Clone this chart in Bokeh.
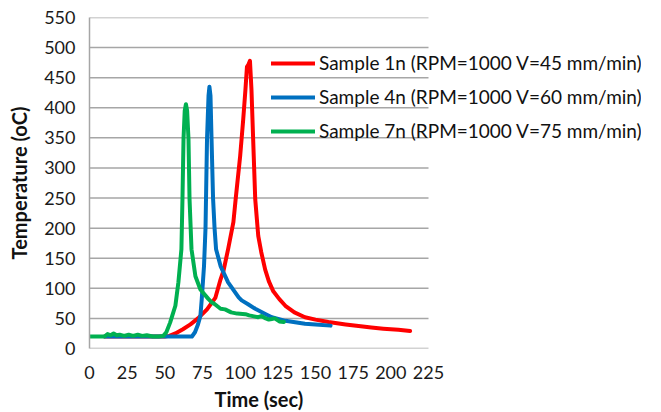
from bokeh.plotting import figure
from bokeh.models import Range1d, Legend, LegendItem, FixedTicker, Title
from bokeh.embed import file_html
from bokeh.resources import INLINE

# ---- data ----
s1_label = "Sample 1n (RPM=1000 V=45 mm/min)"
s1_time = [10, 20, 30, 40, 50, 53, 57, 62, 67, 72, 78, 83.5, 87, 89, 92, 95.5, 97, 100, 102,
           103.5, 104.5, 105.5, 106.5, 107.5, 109, 110, 112, 114, 116.6, 119, 122, 126, 130,
           136, 143, 150, 158.6, 170, 180, 187, 195, 205, 212.8]
s1_temp = [20, 20, 20, 20, 20, 21, 25, 32, 40, 50, 65, 84, 115, 130, 165, 210, 248, 320, 380,
           430, 468, 472, 478, 430, 320, 248, 187, 160, 131, 112, 95, 82, 71,
           60, 52, 48, 44, 40, 37, 35, 33, 31, 29]

s4_label = "Sample 4n (RPM=1000 V=60 mm/min)"
s4_time = [10, 20, 30, 40, 50, 60, 68, 70, 72, 73.6, 74.5, 76, 77, 78, 79, 79.6, 80.3, 81, 82,
           83, 84, 87, 92, 99, 101, 105, 110, 117, 121, 130, 143, 150, 160]
s4_temp = [20, 20, 20, 20, 20, 20, 20, 27, 40, 54, 82, 137, 200, 348, 420, 435, 420, 348, 250,
           200, 165, 137, 110, 85, 80, 74, 66, 57, 52, 46, 41, 40, 38]

s7_label = "Sample 7n (RPM=1000 V=75 mm/min)"
s7_time = [0, 5, 10, 12, 14, 16, 18, 20, 23, 26, 29, 32, 35, 38, 42, 46, 49, 51, 53.5, 55, 57,
           59, 61, 61.7, 62.4, 63.2, 64, 64.8, 65.7, 66.4, 67.7, 70.3, 73.6, 79, 81, 83, 87,
           90, 94, 98, 103.5, 106, 110, 112, 114, 117, 119, 121, 123, 126, 129]
s7_temp = [20, 20, 20, 24, 22, 25, 22, 23, 21, 23, 21, 23, 21, 22, 20, 20, 21, 27, 43, 55, 71,
           110, 165, 248, 348, 395, 406, 395, 348, 248, 165, 120, 98, 82, 77, 74, 66,
           65, 60, 58, 57, 55, 53, 52, 54, 50, 48, 49, 50, 45, 44]

x_ticks = [0, 25, 50, 75, 100, 125, 150, 175, 200, 225]
y_ticks = [0, 50, 100, 150, 200, 250, 300, 350, 400, 450, 500, 550]
x_min, x_max = 0, 225
y_min, y_max = 0, 550
x_title = "Time (sec)"
y_title = "Temperature (oC)"

FONT = "Lato"
GRID = "#a6a6a6"

# The plotted area spans 0..225 over 339 px; the frame is widened to the right so the
# legend (which overhangs the plot area in the reference) is not clipped.
PLOT_W = 339
FRAME_W = 552
x_end = x_max * FRAME_W / PLOT_W

p = figure(frame_width=FRAME_W, frame_height=331, output_backend="svg", toolbar_location=None,
           x_range=Range1d(x_min, x_end), y_range=Range1d(y_min, y_max),
           min_border_left=89, min_border_right=4, min_border_top=17, min_border_bottom=8)
p.outline_line_color = None
p.background_fill_color = "white"
p.xgrid.grid_line_color = None
p.ygrid.grid_line_color = None

# horizontal grid lines over the plotted area only
p.segment(x0=[x_min] * len(y_ticks), x1=[x_max] * len(y_ticks), y0=y_ticks, y1=y_ticks,
          line_color=GRID, line_width=1.5)

r1 = p.line(s1_time, s1_temp, line_color="#ff0000", line_width=4, line_join="round", line_cap="round")
r4 = p.line(s4_time, s4_temp, line_color="#0070c0", line_width=4, line_join="round", line_cap="round")
r7 = p.line(s7_time, s7_temp, line_color="#00b050", line_width=4, line_join="round", line_cap="round")

p.xaxis.ticker = FixedTicker(ticks=x_ticks)
p.yaxis.ticker = FixedTicker(ticks=y_ticks)
p.xaxis.bounds = (x_min, x_max)

for ax in (p.xaxis[0], p.yaxis[0]):
    ax.major_tick_line_color = None
    ax.minor_tick_line_color = None
    ax.axis_line_color = GRID
    ax.axis_line_width = 1.5
    ax.major_label_text_font = FONT
    ax.major_label_text_font_size = "18px"
    ax.major_label_text_color = "#1a1a1a"
    ax.axis_label_text_font = FONT
    ax.axis_label_text_font_size = "20px"
    ax.axis_label_text_font_style = "bold"
    ax.axis_label_text_color = "#111111"

p.xaxis.axis_line_color = None
p.yaxis.axis_label = y_title
p.xaxis.major_label_standoff = 11
p.yaxis.major_label_standoff = 8
p.yaxis.axis_label_standoff = 10

# x-axis title, centred under the plotted area (not the widened frame)
xt = Title(text=x_title, align="left", offset=125, standoff=6,
           text_font=FONT, text_font_size="20px", text_font_style="bold", text_color="#111111")
p.add_layout(xt, "below")

legend = Legend(items=[LegendItem(label=s1_label, renderers=[r1]),
                       LegendItem(label=s4_label, renderers=[r4]),
                       LegendItem(label=s7_label, renderers=[r7])],
                location=(182, 206), orientation="vertical")
legend.border_line_color = None
legend.background_fill_alpha = 0
legend.padding = 0
legend.margin = 0
legend.spacing = 11
legend.glyph_width = 44
legend.glyph_height = 20
legend.label_height = 20
legend.label_standoff = 4
legend.label_text_font = FONT
legend.label_text_font_size = "19px"
legend.label_text_color = "#111111"
p.add_layout(legend, "center")

open("out.html", "w").write(file_html(p, INLINE))
